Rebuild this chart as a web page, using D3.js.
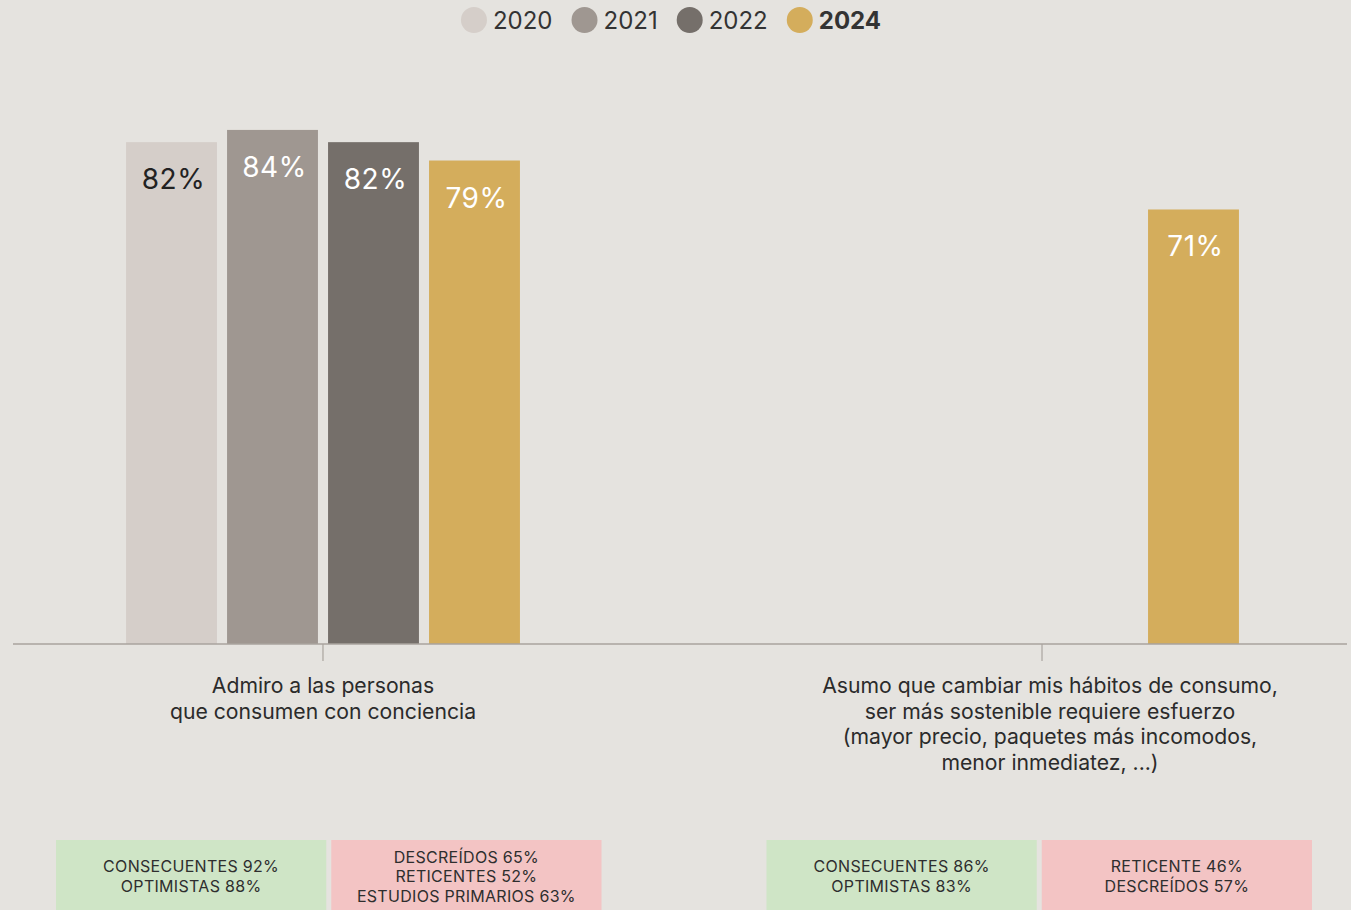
<!DOCTYPE html>
<html lang="es">
<head>
<meta charset="utf-8">
<script src="https://cdn.jsdelivr.net/npm/d3@7"></script>
<style>
  html, body { margin: 0; padding: 0; background: #e5e3df; }
  svg { display: block; }
  text { font-family: Inter, "Noto Sans", sans-serif; }
</style>
</head>
<body>
<svg id="chart" width="1351" height="910"></svg>
<script>
// Survey statements (each category label split into its lines)
const categories = [
  ["Admiro a las personas", "que consumen con conciencia"],
  ["Asumo que cambiar mis hábitos de consumo,", "ser más sostenible requiere esfuerzo", "(mayor precio, paquetes más incomodos,", "menor inmediatez, ...)"]
];
const years = ["2020", "2021", "2022", "2024"];

// Share agreeing, per year (null = not asked that year)
const values2020 = [82, null];
const values2021 = [84, null];
const values2022 = [82, null];
const values2024 = [79, 71];

// Segment call-outs under each statement
const highSegments = [
  ["CONSECUENTES 92%", "OPTIMISTAS 88%"],
  ["CONSECUENTES 86%", "OPTIMISTAS 83%"]
];
const lowSegments = [
  ["DESCREÍDOS 65%", "RETICENTES 52%", "ESTUDIOS PRIMARIOS 63%"],
  ["RETICENTE 46%", "DESCREÍDOS 57%"]
];

const yearColors = ["#d5cec9", "#9f9791", "#756f6a", "#d4ad5c"];
const labelColors = ["#222222", "#ffffff", "#ffffff", "#ffffff"];

const seriesByYear = [values2020, values2021, values2022, values2024];
const catKeys = categories.map((c, i) => "c" + i);

const svg = d3.select("#chart");

const x0 = d3.scaleBand().domain(catKeys).range([18, 1347])
  .paddingInner(0.1516).paddingOuter(0);
const x1 = d3.scaleBand().domain(years).range([0, x0.bandwidth()])
  .paddingInner(0.1).paddingOuter(1.07);
const y = d3.scaleLinear().domain([0, 100]).range([644, 32]);

// Bars
const bars = [];
catKeys.forEach((k, ci) => {
  years.forEach((yr, yi) => {
    const v = seriesByYear[yi][ci];
    if (v != null) bars.push({ k, yr, yi, v });
  });
});

const g = svg.append("g");
g.selectAll("rect.bar").data(bars).join("rect")
  .attr("class", "bar")
  .attr("x", d => x0(d.k) + x1(d.yr))
  .attr("y", d => y(d.v))
  .attr("width", x1.bandwidth())
  .attr("height", d => y(0) - y(d.v))
  .attr("fill", d => yearColors[d.yi]);

g.selectAll("text.val").data(bars).join("text")
  .attr("class", "val")
  .attr("x", d => x0(d.k) + x1(d.yr) + x1.bandwidth() / 2)
  .attr("dx", 2)
  .attr("y", d => y(d.v) + 47)
  .attr("text-anchor", "middle")
  .attr("font-size", 28)
  .attr("letter-spacing", 0.5)
  .attr("fill", d => labelColors[d.yi])
  .text(d => d.v + "%");

// Baseline and category ticks
const axis = d3.axisBottom(x0).tickSize(17).tickSizeOuter(0).tickFormat("");
const axisG = svg.append("g").attr("transform", `translate(0,${y(0)})`).call(axis);
axisG.select(".domain").remove();
axisG.selectAll(".tick line").attr("stroke", "#9e9893").attr("stroke-width", 1);
svg.append("line")
  .attr("x1", 13).attr("x2", 1347)
  .attr("y1", y(0)).attr("y2", y(0))
  .attr("stroke", "#a9a39e").attr("stroke-width", 1.6);

// Category labels; the long four-line statement sits a little right of its tick
catKeys.forEach((k, ci) => {
  const nudge = categories[ci].length > 2 ? 8 : 0;
  const cx = x0(k) + x0.bandwidth() / 2 + nudge;
  const t = svg.append("text")
    .attr("x", cx).attr("y", 693)
    .attr("text-anchor", "middle")
    .attr("font-size", 21.2)
    .attr("fill", "#2b2b2b");
  categories[ci].forEach((line, li) => {
    t.append("tspan").attr("x", cx).attr("y", 693 + li * 25.6).text(line);
  });
});

// Segment boxes: a pair (high / low adoption segments) under each statement
const boxBand = d3.scaleBand().domain(catKeys).range([56, 1312]).paddingInner(0.2322);
const boxGap = 5, boxTop = 840, boxH = 74;
const boxW = (boxBand.bandwidth() - boxGap) / 2;
catKeys.forEach((k, ci) => {
  const bx = boxBand(k);
  const boxes = [
    { x: bx, fill: "#cfe5c6", lines: highSegments[ci] },
    { x: bx + boxW + boxGap, fill: "#f3c4c4", lines: lowSegments[ci] }
  ];
  boxes.forEach(b => {
    svg.append("rect")
      .attr("x", b.x).attr("y", boxTop)
      .attr("width", boxW).attr("height", boxH)
      .attr("fill", b.fill);
    const lh = b.lines.length > 2 ? 19.5 : 20;
    const midY = 876;
    const firstBase = midY - (b.lines.length - 1) * lh / 2 + 6;
    const t = svg.append("text")
      .attr("text-anchor", "middle")
      .attr("font-size", 16)
      .attr("letter-spacing", 0.3)
      .attr("fill", "#2e2e2e");
    b.lines.forEach((line, li) => {
      t.append("tspan")
        .attr("x", b.x + boxW / 2)
        .attr("y", firstBase + li * lh)
        .text(line);
    });
  });
});

// Legend
const legend = svg.append("g");
let lx = 0;
years.forEach((yr, i) => {
  const item = legend.append("g").attr("transform", `translate(${lx},0)`);
  item.append("circle").attr("cx", 13).attr("cy", 20).attr("r", 13).attr("fill", yearColors[i]);
  const txt = item.append("text")
    .attr("x", 32).attr("y", 29)
    .attr("font-size", 24)
    .attr("font-weight", yr === "2024" ? 700 : 400)
    .attr("fill", "#333333")
    .text(yr);
  lx += 32 + txt.node().getComputedTextLength() + 19;
});
const legendW = lx - 19;
legend.attr("transform", `translate(${671 - legendW / 2},0)`);
</script>
</body>
</html>
